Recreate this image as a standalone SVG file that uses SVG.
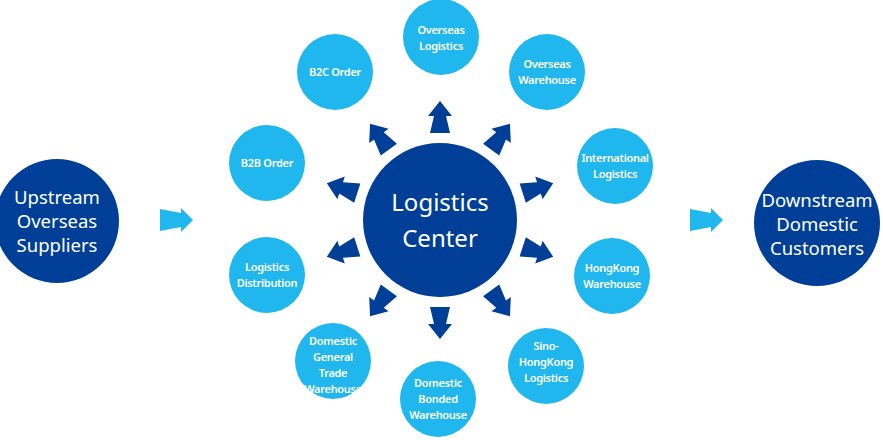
<svg xmlns="http://www.w3.org/2000/svg" width="883" height="440" viewBox="0 0 883 440">
<style>
.d{fill:#003f98}.l{fill:#1fb7ee}
.s{font-family:"Noto Sans","Open Sans",sans-serif;font-size:11px;font-weight:600;fill:#fff;text-anchor:middle;letter-spacing:-0.3px}
.b{font-family:"Noto Sans","Open Sans",sans-serif;font-size:18.5px;fill:#fff;text-anchor:middle}
.c{font-family:"Noto Sans","Open Sans",sans-serif;font-size:24px;fill:#fff;text-anchor:middle}
</style>
<defs>
<polygon id="ar" points="-10,-87 10,-87 6,-104 12,-104 0,-119 -12,-104 -6,-104" class="d"/>
<polygon id="ch" points="0,-11 21,-7 21,-12 33,0 21,12 21,7 0,11" class="l"/>
</defs>
<rect width="883" height="440" fill="#fff"/>
<g id="connectors">
<g transform="translate(440,220)">
<use href="#ar"/><use href="#ar" transform="rotate(36)"/><use href="#ar" transform="rotate(72)"/><use href="#ar" transform="rotate(108)"/><use href="#ar" transform="rotate(144)"/><use href="#ar" transform="rotate(180)"/><use href="#ar" transform="rotate(-36)"/><use href="#ar" transform="rotate(-72)"/><use href="#ar" transform="rotate(-108)"/><use href="#ar" transform="rotate(-144)"/>
</g>
<use href="#ch" x="160" y="220"/>
<use href="#ch" x="690" y="220"/>
</g>
<g id="center"><circle cx="440" cy="220" r="77" class="d"/><text class="c" x="440" y="211">Logistics</text><text class="c" x="440" y="247">Center</text></g>
<g id="upstream"><circle cx="57" cy="221" r="62" class="d"/><text class="b" x="57" y="204">Upstream</text><text class="b" x="57" y="228">Overseas</text><text class="b" x="57" y="252">Suppliers</text></g>
<g id="downstream"><circle cx="817" cy="223" r="63" class="d"/><text class="b" x="817" y="207">Downstream</text><text class="b" x="817" y="231">Domestic</text><text class="b" x="817" y="255">Customers</text></g>
<g id="n1"><circle cx="441" cy="37" r="38" class="l"/><text class="s" x="441" y="34">Overseas</text><text class="s" x="441" y="50">Logistics</text></g>
<g id="n2"><circle cx="547" cy="72" r="38" class="l"/><text class="s" x="547" y="68">Overseas</text><text class="s" x="547" y="84">Warehouse</text></g>
<g id="n3"><circle cx="615" cy="166" r="38" class="l"/><text class="s" x="615" y="162">International</text><text class="s" x="615" y="178">Logistics</text></g>
<g id="n4"><circle cx="612" cy="276" r="38" class="l"/><text class="s" x="612" y="272">HongKong</text><text class="s" x="612" y="288">Warehouse</text></g>
<g id="n5"><circle cx="546" cy="366" r="38" class="l"/><text class="s" x="546" y="350">Sino-</text><text class="s" x="546" y="366">HongKong</text><text class="s" x="546" y="382">Logistics</text></g>
<g id="n6"><circle cx="438" cy="399" r="38" class="l"/><text class="s" x="438" y="387">Domestic</text><text class="s" x="438" y="403">Bonded</text><text class="s" x="438" y="419">Warehouse</text></g>
<g id="n7"><circle cx="333" cy="361" r="38" class="l"/><text class="s" x="333" y="345">Domestic</text><text class="s" x="333" y="361">General</text><text class="s" x="333" y="377">Trade</text><text class="s" x="333" y="393">Warehouse</text></g>
<g id="n8"><circle cx="267" cy="275" r="38" class="l"/><text class="s" x="267" y="271">Logistics</text><text class="s" x="267" y="287">Distribution</text></g>
<g id="n9"><circle cx="267" cy="163" r="38" class="l"/><text class="s" x="267" y="167">B2B Order</text></g>
<g id="n10"><circle cx="335" cy="72" r="38" class="l"/><text class="s" x="335" y="76">B2C Order</text></g>
</svg>
